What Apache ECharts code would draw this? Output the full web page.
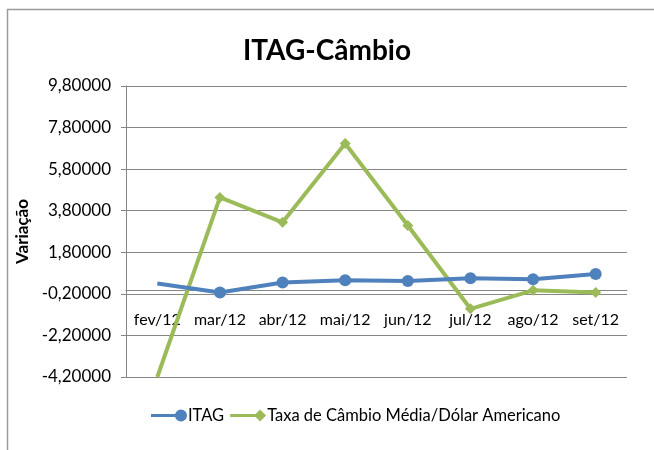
<!DOCTYPE html>
<html>
<head>
<meta charset="utf-8">
<script src="https://cdn.jsdelivr.net/npm/echarts@6/dist/echarts.min.js"></script>
<style>
  html, body { margin: 0; padding: 0; background: #fff; }
  #chart { width: 654px; height: 450px; }
</style>
</head>
<body>
<div id="chart"></div>
<script>
// categorias (meses)
const months = ['fev/12', 'mar/12', 'abr/12', 'mai/12', 'jun/12', 'jul/12', 'ago/12', 'set/12']
// variação ITAG
const itag = [0.30, -0.13, 0.35, 0.45, 0.42, 0.55, 0.50, 0.75]
// taxa de câmbio média / dólar americano
const cambio = [-4.2, 4.44, 3.24, 7.03, 3.09, -0.92, -0.03, -0.13]

const font = 'Lato, "Open Sans", sans-serif'

// ícones da legenda no estilo Excel: linha com marcador na ponta
const iconCircle = 'path://M0,4.5 L30,4.5 L30,7.5 L0,7.5 Z M24,6 A6,6 0 1,1 36,6 A6,6 0 1,1 24,6 Z'
const iconDiamond = 'path://M0,4.5 L30,4.5 L30,7.5 L0,7.5 Z M24,6 L30,0 L36,6 L30,12 Z'

const chart = echarts.init(document.getElementById('chart'))

const option = {
  animation: false,
  textStyle: { fontFamily: font },
  graphic: [
    {
      type: 'polyline',
      shape: { points: [[7.5, 450], [7.5, 9.5], [654, 9.5]] },
      style: { fill: 'none', stroke: '#9a9a9a', lineWidth: 1.5 },
      silent: true
    }
  ],
  title: {
    text: 'ITAG-Câmbio',
    left: 'center',
    top: 32,
    textStyle: { fontFamily: font, fontSize: 28, fontWeight: 'bold', color: '#000' }
  },
  legend: {
    top: 402,
    left: 146,
    itemWidth: 36,
    itemHeight: 12,
    itemGap: 6,
    textStyle: { fontFamily: font, fontSize: 16.5, color: '#000', padding: [0, 0, 0, -4] },
    data: [
      { name: 'ITAG', icon: iconCircle },
      { name: 'Taxa de Câmbio Média/Dólar Americano', icon: iconDiamond }
    ]
  },
  grid: { left: 126, right: 27, top: 86, bottom: 73 },
  xAxis: {
    type: 'category',
    data: months,
    boundaryGap: true,
    offset: -87,
    axisLine: { onZero: false, lineStyle: { color: '#868686', width: 1 } },
    axisTick: { show: false },
    axisLabel: { interval: 0, margin: 22, fontSize: 16, color: '#000', fontFamily: font }
  },
  yAxis: {
    type: 'value',
    min: -4.2,
    max: 9.8,
    interval: 2,
    name: 'Variação',
    nameLocation: 'middle',
    nameGap: 92,
    nameTextStyle: { fontFamily: font, fontSize: 17, fontWeight: 'bold', color: '#000' },
    axisLine: { show: true, lineStyle: { color: '#868686' } },
    axisTick: { show: true, length: 5, lineStyle: { color: '#868686' } },
    axisLabel: {
      fontSize: 17,
      color: '#000',
      margin: 15,
      fontFamily: font,
      formatter: (v) => v.toFixed(5).replace('.', ',')
    },
    splitLine: { lineStyle: { color: '#868686', width: 1 } }
  },
  series: [
    {
      name: 'ITAG',
      type: 'line',
      data: itag.map((v, i) => (i === 0 ? { value: v, symbol: 'none' } : v)),
      symbol: 'circle',
      symbolSize: 12,
      itemStyle: { color: '#4f81bd' },
      lineStyle: { color: '#4f81bd', width: 4 },
      z: 3
    },
    {
      name: 'Taxa de Câmbio Média/Dólar Americano',
      type: 'line',
      data: cambio.map((v, i) => (i === 0 ? { value: v, symbol: 'none' } : v)),
      symbol: 'diamond',
      symbolSize: 11,
      itemStyle: { color: '#9bbb59' },
      lineStyle: { color: '#9bbb59', width: 4 },
      z: 2
    }
  ]
}

chart.setOption(option)
</script>
</body>
</html>
